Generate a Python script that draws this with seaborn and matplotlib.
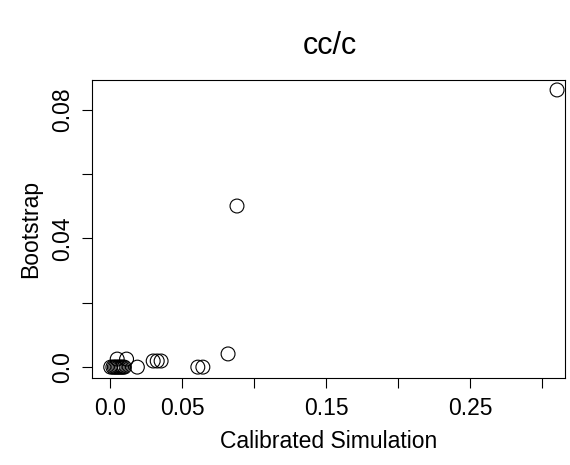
import matplotlib
matplotlib.use("Agg")
import matplotlib.pyplot as plt
import seaborn as sns
import pandas as pd

# data
calibrated = [0.0005, 0.002, 0.003, 0.004, 0.005, 0.006, 0.007, 0.008, 0.009, 0.010,
              0.005, 0.0115, 0.019, 0.030, 0.0328, 0.0355, 0.0610, 0.0645,
              0.0820, 0.0882, 0.3105]
bootstrap = [0.0, 0.0, 0.0, 0.0, 0.0, 0.0, 0.0, 0.0, 0.0, 0.0,
             0.0025, 0.0025, 0.0, 0.0019, 0.0019, 0.0019, 0.0, 0.0,
             0.0041, 0.0501, 0.0862]
x_ticks = [0.0, 0.05, 0.10, 0.15, 0.20, 0.25, 0.30]
x_tick_labels = ["0.0", "0.05", "", "0.15", "", "0.25", ""]
y_ticks = [0.0, 0.02, 0.04, 0.06, 0.08]
y_tick_labels = ["0.0", "", "0.04", "", "0.08"]
title = "cc/c"
x_label = "Calibrated Simulation"
y_label = "Bootstrap"

sns.set_style("ticks")
plt.rcParams["font.family"] = ["Liberation Sans", "DejaVu Sans"]
plt.rcParams["text.color"] = "black"
plt.rcParams["axes.labelcolor"] = "black"
plt.rcParams["xtick.color"] = "black"
plt.rcParams["ytick.color"] = "black"

df = pd.DataFrame({"x": calibrated, "y": bootstrap})

fig = plt.figure(figsize=(5.7, 4.65), dpi=100)
ax = fig.add_axes([0.1614, 0.187, 0.8298, 0.641])
sns.scatterplot(data=df, x="x", y="y", ax=ax, s=100, facecolors="none",
                edgecolor="black", linewidth=0.8, marker="o")

ax.set_xlim(-0.0125, 0.316)
ax.set_ylim(-0.0034, 0.0893)
ax.set_xticks(x_ticks)
ax.set_xticklabels(x_tick_labels, fontsize=16.5, color="black")
ax.set_yticks(y_ticks)
ax.set_yticklabels(y_tick_labels, fontsize=16.5, rotation=90, va="center", color="black")
ax.tick_params(direction="out", length=7, width=0.8, colors="black", pad=7)
ax.tick_params(axis="y", pad=6)
for sp in ax.spines.values():
    sp.set_visible(True)
    sp.set_linewidth(0.8)
    sp.set_color("black")
ax.set_xlabel(x_label, fontsize=16.5, labelpad=7, color="black")
ax.set_ylabel(y_label, fontsize=16.5, labelpad=6, color="black")
fig.text(0.579, 0.901, title, fontsize=22, ha="center", va="center", color="black")

fig.savefig("out.png", dpi=100)
